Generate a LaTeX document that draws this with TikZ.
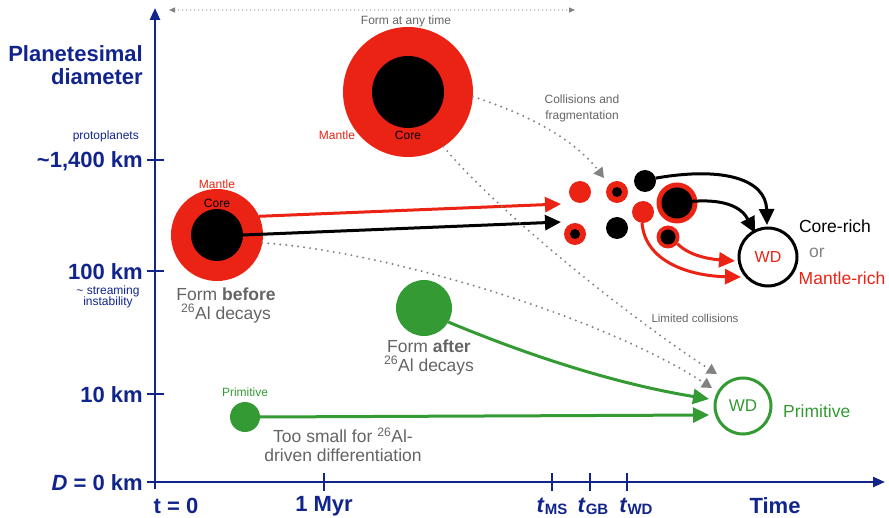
\documentclass[tikz,border=0pt]{standalone}
\usepackage{fontspec}
\setmainfont{Liberation Sans}
\usetikzlibrary{arrows.meta}
\definecolor{axblue}{RGB}{16,36,140}
\definecolor{mred}{RGB}{235,35,20}
\definecolor{mgreen}{RGB}{52,154,52}
\definecolor{tgray}{RGB}{100,100,100}
\definecolor{dgray}{RGB}{130,130,130}
\newcommand{\fsz}[2]{\fontsize{#1}{#2}\selectfont}
\begin{document}
\begin{tikzpicture}[x=1pt,y=-1pt,
  blob/.style={circle,inner sep=0pt,outer sep=0pt,minimum size=#1},
  axis/.style={axblue,line width=2.5pt},
  tick/.style={axblue,line width=2pt},
  axlab/.style={text=axblue,font=\fsz{22}{23}\bfseries,inner sep=0pt},
  smlab/.style={text=axblue,font=\fsz{12}{11.5},inner sep=0pt},
  txt/.style={text=tgray,font=\fsz{17.5}{19},align=center,inner sep=0pt},
  small/.style={font=\fsz{12}{16},align=center,inner sep=0pt},
  arr/.style={line width=3pt,-{Triangle[length=16pt,width=15pt]}},
  dots/.style={dgray,line width=2.2pt,line cap=round,dash pattern=on 0pt off 6pt,-{Triangle[length=10pt,width=11pt]}}]
\useasboundingbox (0,0) rectangle (889,518);

% axes
\coordinate (yB) at (155,489);
\coordinate (yT) at (155,8);
\coordinate (xL) at (147,482);
\coordinate (xR) at (885,482);
\draw[axis,-{Triangle[length=12pt,width=10pt]}] (yB) -- (yT);
\draw[axis,-{Triangle[length=12pt,width=10pt]}] (xL) -- (xR);
\foreach \yy/\nm in {160/ya,271/yb,394/yc}{
  \coordinate (\nm1) at (147,\yy); \coordinate (\nm2) at (164,\yy);
  \draw[tick] (\nm1) -- (\nm2);}
\foreach \xx/\nm in {324/xa,552/xb,590/xc,627/xd}{
  \coordinate (\nm1) at (\xx,473); \coordinate (\nm2) at (\xx,491);
  \draw[tick] (\nm1) -- (\nm2);}

% axis labels
\node[axlab,anchor=east,align=right] (ttl) at (143,65) {Planetesimal\\diameter};
\node[smlab,anchor=east] (pp) at (139,136) {protoplanets};
\node[axlab,anchor=east] (l1400) at (143,161) {\textasciitilde1,400 km};
\node[axlab,anchor=east] (l100) at (143,272) {100 km};
\node[smlab,align=center] (si) at (108,297) {\textasciitilde\ streaming\\instability};
\node[axlab,anchor=east] (l10) at (143,395) {10 km};
\node[axlab,anchor=east] (l0) at (143,483) {\textit{D} = 0 km};
\node[axlab] (t0) at (176,506) {t = 0};
\node[axlab] (t1) at (324,506) {1 Myr};
\node[axlab] (tms) at (552,506) {\textit{t}\raisebox{-2pt}{\fsz{15}{15}\bfseries MS}};
\node[axlab] (tgb) at (593,506) {\textit{t}\raisebox{-2pt}{\fsz{15}{15}\bfseries GB}};
\node[axlab] (twd) at (636,506) {\textit{t}\raisebox{-2pt}{\fsz{15}{15}\bfseries WD}};
\node[axlab] (tim) at (775,506) {Time};

% top dotted double arrow
\coordinate (tdL) at (169,10);
\coordinate (tdR) at (575,10);
\draw[dgray,line width=1.3pt,line cap=round,dash pattern=on 0pt off 4pt,{Triangle[length=6pt,width=5pt]}-{Triangle[length=6pt,width=5pt]}] (tdL) -- (tdR);
\node[small,text=tgray] (fany) at (406,21) {Form at any time};

% big planetesimal (any time)
\node[blob=130,fill=mred] (mA) at (408,92) {};
\node[blob=72,fill=black] (cA) at (408,92) {};
\node[small,text=mred] (mantA) at (337,135) {Mantle};
\node[small] (coreA) at (408,135) {Core};

% medium planetesimal (before)
\node[blob=92,fill=mred] (mB) at (217,235) {};
\node[blob=52,fill=black] (cB) at (217,235) {};
\node[small,text=mred] (mantB) at (217,184) {Mantle};
\node[small] (coreB) at (217,203) {Core};
\node[txt] (fbef) at (226,305) {Form \textbf{before}\\\textsuperscript{26}Al decays};

% green planetesimals
\node[blob=56,fill=mgreen] (gA) at (424,308) {};
\node[txt] (faft) at (429,357) {Form \textbf{after}\\\textsuperscript{26}Al decays};
\node[blob=30,fill=mgreen] (gP) at (245,417) {};
\node[small,text=mgreen] (primS) at (245,392) {Primitive};
\node[txt] (tsm) at (343,445) {Too small for \textsuperscript{26}Al-\\driven differentiation};

% fragments
\node[blob=22,fill=mred] (f1) at (580,192) {};
\node[blob=22,fill=mred] (f2) at (617,192) {};
\node[blob=10,fill=black] (f2c) at (617,192) {};
\node[blob=22,fill=black] (f3) at (645,181) {};
\node[blob=22,fill=mred] (f4) at (643,212) {};
\node[blob=41,fill=mred] (f5) at (677,203) {};
\node[blob=31,fill=black] (f5c) at (677,203) {};
\node[blob=22,fill=mred] (f6) at (575,234) {};
\node[blob=10,fill=black] (f6c) at (575,234) {};
\node[blob=22,fill=black] (f7) at (617,228) {};
\node[blob=23,fill=mred] (f8) at (668,237) {};
\node[blob=15,fill=black] (f8c) at (668,237) {};

% white dwarfs
\node[blob=58,draw=black,line width=3pt,text=mred,font=\fsz{16}{16}] (wd1) at (768,257) {WD};
\node[inner sep=0pt,font=\fsz{17.5}{19}] (crich) at (835,226) {Core-rich};
\node[inner sep=0pt,font=\fsz{17.5}{19},text=dgray] (orr) at (817,253) {or};
\node[inner sep=0pt,font=\fsz{17.5}{19},text=mred] (mrich) at (842,278) {Mantle-rich};
\node[blob=56,draw=mgreen,line width=3pt,text=mgreen,font=\fsz{17}{17}] (wd2) at (743,406) {WD};
\node[inner sep=0pt,font=\fsz{17.5}{19},text=mgreen,anchor=west] (prim) at (783,411) {Primitive};

% straight arrows from the medium body
\coordinate (eR) at (561,204);
\coordinate (eK) at (561,222);
\draw[arr,mred] (mB.24) -- (eR);
\draw[arr,black] (cB.east) -- (eK);

% curved arrows into the WD
\coordinate (e1) at (767,225);
\coordinate (e2) at (755,233);
\coordinate (e3) at (735,261);
\coordinate (e4) at (741,277);
\draw[arr,black] (f3.15) .. controls (725,166) and (766,180) .. (e1);
\draw[arr,black] (f5c.center) .. controls (725,196) and (742,208) .. (e2);
\draw[arr,mred] (f8.-35) .. controls (688,255) and (708,259) .. (e3);
\draw[arr,mred] (f4.-95) .. controls (645,262) and (690,276) .. (e4);

% green arrows
\coordinate (g1) at (709,399);
\coordinate (g2) at (709,415);
\draw[arr,mgreen] (gA.-30) .. controls (520,352) and (610,383) .. (g1);
\draw[arr,mgreen] (gP.east) -- (g2);

% dotted paths
\coordinate (d1) at (604,178);
\coordinate (d2) at (717,374);
\coordinate (d3) at (712,388);
\draw[dots] (mA.-4) .. controls (530,115) and (575,140) .. (d1);
\draw[dots] (mA.-57) .. controls (500,215) and (640,325) .. (d2);
\draw[dots] (mB.-10) .. controls (380,250) and (600,315) .. (d3);
\node[small,text=tgray] (coll) at (582,108) {Collisions and\\fragmentation};
\node[small,text=tgray,font=\fsz{11.5}{14}] (lim) at (695,318) {Limited collisions};
\end{tikzpicture}
\end{document}
